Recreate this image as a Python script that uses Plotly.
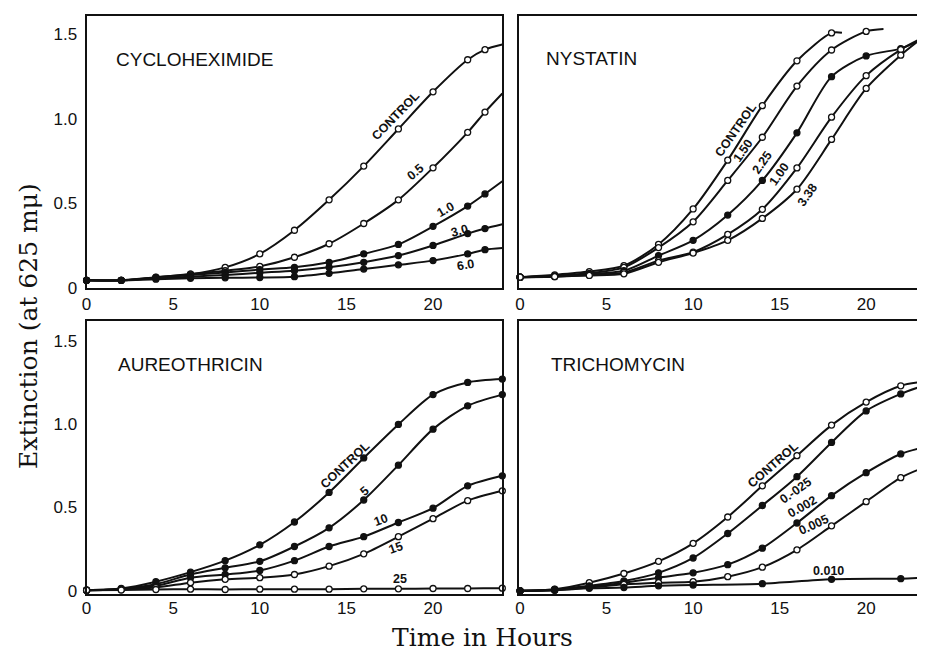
import plotly.graph_objects as go

# ---------------- data ----------------
HOURS = [0, 2, 4, 6, 8, 10, 12, 14, 16, 18, 20, 22]

# Cycloheximide (concentrations)
CYC_LABELS = ["CONTROL", "0.5", "1.0", "3.0", "6.0"]
CYC_HOURS = HOURS + [23]
CYC_CONTROL = [0.043, 0.043, 0.062, 0.08, 0.12, 0.20, 0.34, 0.52, 0.72, 0.94, 1.16, 1.35, 1.41]
CYC_0_5 = [0.043, 0.043, 0.06, 0.08, 0.10, 0.126, 0.18, 0.26, 0.38, 0.52, 0.71, 0.92, 1.04]
CYC_1_0 = [0.043, 0.043, 0.058, 0.075, 0.09, 0.107, 0.12, 0.15, 0.20, 0.256, 0.363, 0.483, 0.555]
CYC_3_0 = [0.043, 0.043, 0.055, 0.065, 0.075, 0.088, 0.10, 0.12, 0.15, 0.19, 0.25, 0.32, 0.35]
CYC_6_0 = [0.043, 0.043, 0.05, 0.055, 0.058, 0.06, 0.065, 0.085, 0.11, 0.135, 0.16, 0.20, 0.225]
CYC_END_HOURS = [24, 24, 24, 24, 24]
CYC_END = [1.44, 1.15, 0.63, 0.375, 0.235]

# Nystatin
NYS_LABELS = ["CONTROL", "1.50", "2.25", "1.00", "3.38"]
NYS_CONTROL = [0.062, 0.076, 0.095, 0.13, 0.256, 0.466, 0.755, 1.078, 1.344, 1.509, None, None]
NYS_1_50 = [0.062, 0.07, 0.085, 0.12, 0.237, 0.39, 0.635, 0.891, 1.194, 1.408, 1.518, None]
NYS_2_25 = [0.062, 0.068, 0.08, 0.10, 0.19, 0.28, 0.43, 0.635, 0.917, 1.25, 1.373, 1.416]
NYS_1_00 = [0.062, 0.066, 0.075, 0.09, 0.16, 0.21, 0.315, 0.464, 0.709, 1.01, 1.256, 1.41]
NYS_3_38 = [0.062, 0.065, 0.072, 0.082, 0.15, 0.205, 0.28, 0.41, 0.583, 0.878, 1.18, 1.377]
NYS_END_HOURS = [18.6, 21.0, 23.0, 23.0, 23.0]
NYS_END = [1.51, 1.532, 1.46, 1.466, 1.46]

# Aureothricin
AU_LABELS = ["CONTROL", "5", "10", "15", "25"]
AU_HOURS = HOURS + [24]
AU_CONTROL = [0.004, 0.014, 0.055, 0.112, 0.181, 0.276, 0.413, 0.59, 0.797, 0.998, 1.177, 1.25, 1.27]
AU_5 = [0.004, 0.012, 0.04, 0.098, 0.138, 0.177, 0.266, 0.378, 0.545, 0.754, 0.97, 1.11, 1.177]
AU_10 = [0.004, 0.01, 0.03, 0.079, 0.098, 0.122, 0.181, 0.266, 0.325, 0.41, 0.496, 0.63, 0.69]
AU_15 = [0.004, 0.008, 0.02, 0.049, 0.069, 0.079, 0.098, 0.148, 0.222, 0.325, 0.433, 0.541, 0.60]
AU_25 = [0.004, 0.005, 0.008, 0.01, 0.008, 0.01, 0.01, 0.01, 0.012, 0.012, 0.014, 0.014, 0.016]
AU_END_HOURS = [24, 24, 24, 24, 24]
AU_END = [1.27, 1.177, 0.69, 0.60, 0.016]

# Trichomycin
TR_LABELS = ["CONTROL", "0.-025", "0.002", "0.005", "0.010"]
TR_CONTROL = [0.0, 0.01, 0.049, 0.104, 0.177, 0.285, 0.443, 0.63, 0.811, 0.994, 1.132, 1.23]
TR_0_025 = [0.0, 0.008, 0.03, 0.059, 0.108, 0.197, 0.344, 0.512, 0.685, 0.89, 1.079, 1.181]
TR_0_002 = [0.0, 0.005, 0.025, 0.049, 0.079, 0.108, 0.157, 0.256, 0.407, 0.571, 0.709, 0.821]
TR_0_005 = [0.0, 0.005, 0.02, 0.039, 0.049, 0.055, 0.085, 0.142, 0.246, 0.39, 0.535, 0.679]
TR_0_010 = [0.0, 0.004, 0.015, 0.02, 0.03, 0.035, None, 0.043, None, 0.069, None, 0.073]
TR_END_HOURS = [23.3, 23.3, 23.3, 23.3, 23.3]
TR_END = [1.254, 1.23, 0.86, 0.738, 0.079]

PANEL_TITLES = ["CYCLOHEXIMIDE", "NYSTATIN", "AUREOTHRICIN", "TRICHOMYCIN"]
X_TICKS = [0, 5, 10, 15, 20]
Y_TICKS = [0, 0.5, 1.0, 1.5]
Y_TICK_TEXT = ["0", "0.5", "1.0", "1.5"]
X_TITLE = "Time in Hours"
Y_TITLE = "Extinction (at 625 m\u03bc)"

# ---------------- figure ----------------
OFF = 8  # page body margin
W, H = 925 - OFF, 657 - OFF


def fx(px):
    return (px - OFF) / W


def fy(py):
    return 1 - (py - OFF) / H


fig = go.Figure()

panels = [
    dict(ax="", hours=CYC_HOURS, series=[CYC_CONTROL, CYC_0_5, CYC_1_0, CYC_3_0, CYC_6_0],
         end_h=CYC_END_HOURS, end_v=CYC_END, labels=CYC_LABELS,
         filled=[False, False, True, True, True]),
    dict(ax="2", hours=HOURS, series=[NYS_CONTROL, NYS_1_50, NYS_2_25, NYS_1_00, NYS_3_38],
         end_h=NYS_END_HOURS, end_v=NYS_END, labels=NYS_LABELS,
         filled=[False, False, True, False, False]),
    dict(ax="3", hours=AU_HOURS, series=[AU_CONTROL, AU_5, AU_10, AU_15, AU_25],
         end_h=AU_END_HOURS, end_v=AU_END, labels=AU_LABELS,
         filled=[True, True, True, False, False]),
    dict(ax="4", hours=HOURS, series=[TR_CONTROL, TR_0_025, TR_0_002, TR_0_005, TR_0_010],
         end_h=TR_END_HOURS, end_v=TR_END, labels=TR_LABELS,
         filled=[False, True, True, False, True]),
]

for p in panels:
    xa, ya = "x" + p["ax"], "y" + p["ax"]
    for vals, eh, ev, fl in zip(p["series"], p["end_h"], p["end_v"], p["filled"]):
        xs = [t for t, v in zip(p["hours"], vals) if v is not None]
        ys = [v for v in vals if v is not None]
        fig.add_trace(go.Scatter(
            x=xs + [eh], y=ys + [ev], mode="lines", xaxis=xa, yaxis=ya,
            line=dict(color="#111111", width=2, shape="spline", smoothing=0.8),
            showlegend=False, hoverinfo="skip"))
        fig.add_trace(go.Scatter(
            x=xs, y=ys, mode="markers", xaxis=xa, yaxis=ya, cliponaxis=False,
            marker=dict(symbol="circle", size=6,
                        color="#111111" if fl else "white",
                        line=dict(color="#111111", width=1.3)),
            showlegend=False))

LEFT_X = [fx(82), fx(500)]
RIGHT_X = [fx(517), 1.0]
TOP_Y = [fy(292), fy(16)]
BOT_Y = [fy(603), fy(326)]

tickfont = dict(family="Liberation Sans, Arial, sans-serif", size=17, color="#111111")
common = dict(showgrid=False, zeroline=False, showline=True, linecolor="#111111",
              linewidth=2, ticks="", tickfont=tickfont)

layout_axes = {
    "xaxis": dict(domain=LEFT_X, range=[0, 24], anchor="y", mirror=True, tickvals=X_TICKS, **common),
    "yaxis": dict(domain=TOP_Y, range=[0, 1.61], anchor="x", mirror=True, ticklabelstandoff=4,
                  tickvals=Y_TICKS, ticktext=Y_TICK_TEXT, **common),
    "xaxis2": dict(domain=RIGHT_X, range=[-0.05, 23.4], anchor="y2", mirror=True, tickvals=X_TICKS, **common),
    "yaxis2": dict(domain=TOP_Y, range=[0, 1.61], anchor="x2", mirror=False,
                   tickvals=Y_TICKS, showticklabels=False, **common),
    "xaxis3": dict(domain=LEFT_X, range=[0, 24], anchor="y3", mirror=True, tickvals=X_TICKS,
                   ticklabelstandoff=-2, **common),
    "yaxis3": dict(domain=BOT_Y, range=[-0.018, 1.618], anchor="x3", mirror=True, ticklabelstandoff=4,
                   tickvals=Y_TICKS, ticktext=Y_TICK_TEXT, **common),
    "xaxis4": dict(domain=RIGHT_X, range=[-0.05, 23.4], anchor="y4", mirror=True, tickvals=X_TICKS,
                   ticklabelstandoff=-2, **common),
    "yaxis4": dict(domain=BOT_Y, range=[-0.018, 1.618], anchor="x4", mirror=False,
                   tickvals=Y_TICKS, showticklabels=False, **common),
}

annotations = []
title_font = dict(family="Liberation Sans, Arial, sans-serif", size=19, color="#111111")
title_pos = [(110, 60), (542, 59), (112, 370), (547, 370)]
for txt, (px, py) in zip(PANEL_TITLES, title_pos):
    annotations.append(dict(text=txt, x=fx(px), y=fy(py), xref="paper", yref="paper",
                            xanchor="left", yanchor="middle", showarrow=False, font=title_font))

# curve label placements (hours, extinction, angle)
label_places = [
    [(17.85, 1.015, -46), (19.0, 0.683, -40), (20.7, 0.46, -30), (21.5, 0.333, -15), (21.9, 0.134, -10)],
    [(12.47, 0.933, -55), (12.87, 0.81, -55), (13.97, 0.74, -55), (14.94, 0.67, -55), (16.6, 0.55, -55)],
    [(14.93, 0.756, -43), (16.07, 0.60, -40), (17.0, 0.425, -20), (17.85, 0.254, -20), (18.1, 0.071, 0)],
    [(14.6, 0.756, -41), (15.9, 0.60, -35), (16.3, 0.50, -30), (16.95, 0.396, -25), (17.8, 0.118, 0)],
]
lab_font = dict(family="Liberation Sans, Arial, sans-serif", size=12.5, color="#111111", weight="bold")
for p, places in zip(panels, label_places):
    for txt, (lx, ly, ang) in zip(p["labels"], places):
        annotations.append(dict(text=txt, x=lx, y=ly, xref="x" + p["ax"], yref="y" + p["ax"],
                                xanchor="center", yanchor="middle",
                                textangle=ang, showarrow=False, font=lab_font))

serif = dict(family="DejaVu Serif, Liberation Serif, serif", size=25, color="#111111")
annotations.append(dict(text=Y_TITLE, x=fx(23), y=fy(331), xref="paper", yref="paper",
                        xanchor="center", yanchor="middle",
                        textangle=-90, showarrow=False, font=serif))
annotations.append(dict(text=X_TITLE, x=fx(480), y=fy(647), xref="paper", yref="paper",
                        xanchor="center", yanchor="middle", borderpad=0,
                        showarrow=False, font=dict(serif, size=25)))

fig.update_layout(
    width=W, height=H, margin=dict(l=0, r=0, t=0, b=0),
    paper_bgcolor="white", plot_bgcolor="white",
    annotations=annotations, **layout_axes)

fig.write_html("out.html")
